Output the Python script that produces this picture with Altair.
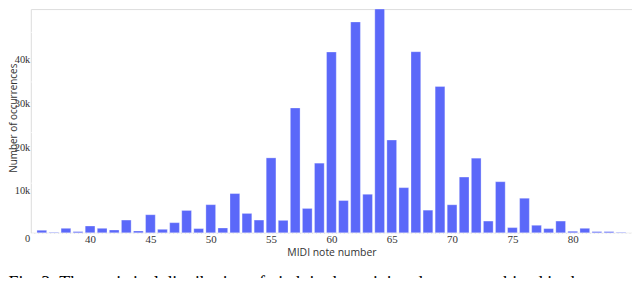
import altair as alt
import pandas as pd

notes = list(range(36, 85))
counts_k = [0.5, 0.1, 0.89, 0.24, 1.34, 0.89, 0.55, 2.53, 0.36, 3.59,
            0.69, 2.01, 4.44, 0.83, 5.59, 0.95, 7.8, 3.85, 2.53, 14.9,
            2.47, 24.83, 4.84, 13.85, 35.96, 6.41, 41.94, 7.66, 44.84, 18.45,
            8.98, 36.02, 4.5, 29.1, 5.57, 11.09, 14.84, 2.33, 10.16, 1.03,
            6.87, 1.48, 0.83, 2.33, 0.3, 0.89, 0.24, 0.24, 0.1]
x_ticks = [40, 45, 50, 55, 60, 65, 70, 75, 80]
y_ticks = [0, 10000, 20000, 30000, 40000]
caption = "Fig. 3: The statistical distribution of pitch in the training dataset, combined in the"

df = pd.DataFrame({"note": notes, "count": [c * 1000 for c in counts_k]})

y_label_offset = {
    "condition": [
        {"test": "datum.value == 40000", "value": 28},
        {"test": "datum.value == 30000", "value": 22},
        {"test": "datum.value == 20000", "value": 15},
        {"test": "datum.value == 10000", "value": 8},
    ],
    "value": 6,
}

chart = alt.Chart(df).mark_bar(
    size=9.8, color="#5B68F9", stroke="#FFFFFF", strokeOpacity=0.6, strokeWidth=0.5
).encode(
    x=alt.X("note:Q",
            scale=alt.Scale(domain=[35.5, 84.5], nice=False, zero=False),
            axis=alt.Axis(values=x_ticks, title="MIDI note number", grid=False,
                          domain=False, ticks=False, labelPadding=1,
                          labelFont="Liberation Serif", labelFontSize=11, labelColor="#333",
                          titleFont="Open Sans", titleFontSize=10.5, titleFontWeight="normal",
                          titleColor="#333", titleBaseline="alphabetic", titleY=23)),
    y=alt.Y("count:Q",
            scale=alt.Scale(domain=[0, 44504], nice=False, clamp=True),
            axis=alt.Axis(values=y_ticks, title="Number of occurrences",
                          labelExpr="datum.value == 0 ? '0' : (datum.value / 1000) + 'k'",
                          grid=True, gridColor="#FFFFFF", gridDash=[3, 1], gridWidth=1,
                          domain=False, ticks=False, labelPadding=1,
                          labelOffset=y_label_offset,
                          labelFont="Liberation Serif", labelFontSize=10.5, labelColor="#333",
                          titleFont="Open Sans", titleFontSize=10, titleFontWeight="normal",
                          titleColor="#333", titleAngle=270, titleBaseline="alphabetic",
                          titleAlign="center", titleX=-14.5, titleY=109.5)),
).properties(
    width=606,
    height=225.5,
    autosize=alt.AutoSizeParams(type="none"),
    padding={"left": 23, "top": 0, "right": 0, "bottom": 44},
    title=alt.TitleParams(text=caption, orient="bottom", anchor="start",
                          font="Liberation Serif", fontSize=18, fontWeight="normal",
                          color="#000", offset=17),
).configure_view(
    fill="#E5ECF6", stroke=None
).configure(background="#FFFFFF")

chart.save("out.html", embed_options={"renderer": "svg", "actions": False})
